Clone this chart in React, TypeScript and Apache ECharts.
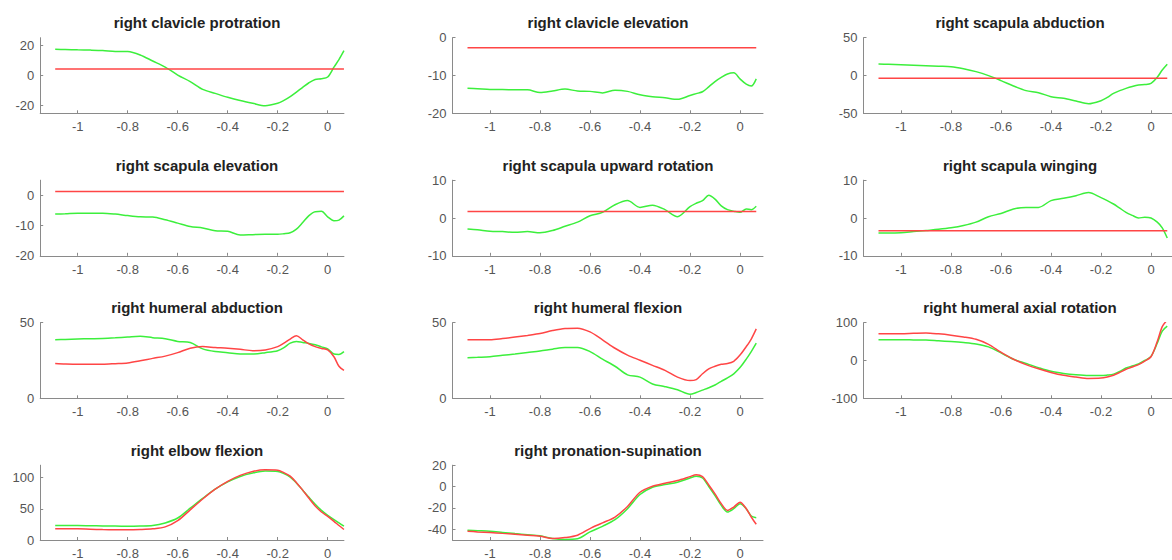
import React, { useEffect, useRef } from "react";
import * as echarts from "echarts";

// shared time samples (s)
const X = [-1.09, -1.05, -1.0, -0.95, -0.9, -0.85, -0.8, -0.75, -0.7, -0.65, -0.6, -0.55, -0.5, -0.45, -0.4, -0.35, -0.3, -0.25, -0.2, -0.175, -0.15, -0.125, -0.1, -0.075, -0.05, -0.025, 0, 0.025, 0.045, 0.065];
const X_ENDS = [-1.09, 0.065];
const X_TICKS = [-1, -0.8, -0.6, -0.4, -0.2, 0];

const TITLES = [
  "right clavicle protration",
  "right clavicle elevation",
  "right scapula abduction",
  "right scapula elevation",
  "right scapula upward rotation",
  "right scapula winging",
  "right humeral abduction",
  "right humeral flexion",
  "right humeral axial rotation",
  "right elbow flexion",
  "right pronation-supination",
];

const Y_MIN = [-25, -20, -50, -20, -10, -10, 0, 0, -100, 0, -50];
const Y_MAX = [25, 0, 50, 5, 10, 10, 50, 50, 100, 120, 20];
const Y_TICKS = [
  [-20, 0, 20],
  [-20, -10, 0],
  [-50, 0, 50],
  [-20, -10, 0],
  [-10, 0, 10],
  [-10, 0, 10],
  [0, 50],
  [0, 50],
  [-100, 0, 100],
  [0, 50, 100],
  [-40, -20, 0, 20],
];

// green curves
const clavProtGreen = [17.3, 17.2, 17.0, 16.8, 16.5, 15.9, 15.8, 13.6, 9.6, 5.6, 0.3, -4.0, -9.2, -11.8, -14.4, -16.6, -18.4, -20.0, -18.4, -16.5, -14.0, -11.0, -7.8, -4.8, -2.6, -2.2, -1.0, 5.5, 10.5, 16.4];
const clavElevGreen = [-13.4, -13.5, -13.7, -13.7, -13.8, -13.8, -14.5, -14.1, -13.6, -14.1, -14.2, -14.6, -13.9, -14.2, -15.1, -15.6, -15.9, -16.3, -15.3, -14.8, -14.3, -13.0, -11.6, -10.5, -9.6, -9.3, -10.9, -12.3, -12.8, -10.9];
const scapAbdGreen = [15.2, 14.8, 14.3, 13.7, 13.0, 12.3, 11.7, 9.0, 5.1, -0.2, -6.8, -13.9, -20.0, -22.7, -28.0, -30.2, -33.7, -37.3, -33.3, -29.0, -23.6, -20.0, -17.0, -14.5, -12.6, -12.0, -10.4, -2.4, 7.3, 15.0];
const scapElevGreen = [-6.2, -6.1, -5.9, -5.9, -5.9, -6.2, -6.7, -7.1, -7.2, -8.1, -9.2, -10.3, -10.8, -11.7, -11.9, -13.1, -13.0, -12.9, -12.9, -12.7, -12.4, -11.2, -9.0, -6.7, -5.4, -5.3, -7.1, -8.4, -8.2, -6.8];
const scapUpGreen = [-2.9, -3.1, -3.5, -3.6, -3.8, -3.6, -3.9, -3.3, -2.2, -1.1, 0.6, 1.5, 3.5, 4.6, 2.8, 3.4, 2.2, 0.35, 3.0, 3.9, 4.6, 6.0, 5.0, 3.2, 2.2, 1.8, 1.5, 2.4, 2.2, 3.1];
const scapWingGreen = [-4.0, -4.0, -3.9, -3.6, -3.3, -3.0, -2.6, -2.0, -1.1, 0.35, 1.2, 2.4, 2.8, 2.8, 4.6, 5.2, 5.9, 6.75, 5.4, 4.6, 3.7, 2.6, 1.5, 0.7, 0.0, 0.2, 0.0, -1.1, -2.6, -5.3];
const humAbdGreen = [38.7, 38.9, 39.2, 39.4, 39.6, 40.0, 40.5, 41.0, 40.1, 39.4, 37.6, 36.9, 32.7, 30.9, 30.2, 29.3, 29.3, 30.2, 31.5, 33.5, 36.5, 37.6, 36.9, 36.3, 35.4, 34.0, 32.7, 29.3, 29.0, 30.9];
const humFlexGreen = [26.8, 27.1, 27.5, 28.4, 29.3, 30.3, 31.3, 32.5, 33.6, 33.6, 30.9, 25.9, 21.2, 15.5, 14.0, 9.5, 7.7, 5.6, 2.7, 3.8, 5.4, 7.0, 8.8, 11.2, 13.5, 16.2, 20.3, 25.9, 30.9, 36.5];
const humAxGreen = [55, 55, 55, 54.5, 54, 52, 50, 47.4, 43.7, 36, 20, 3.3, -8, -19, -28.6, -34.3, -38, -40, -40, -38.5, -36, -29, -20, -14.5, -9, 0, 10.8, 45.5, 78, 91];
const elbowGreen = [23.2, 23.2, 23.2, 22.9, 22.6, 22.3, 22.1, 22.4, 23.2, 27.4, 35.3, 51, 66.8, 81.6, 93.2, 102, 107.4, 110.5, 110, 106.5, 101, 91.5, 80, 68.5, 57.4, 47.5, 39.5, 32.6, 27.4, 22.1];
const pronGreen = [-40.9, -41.3, -41.8, -42.9, -44, -45, -46.1, -48.6, -49.5, -48.9, -42.4, -37.2, -31, -20.7, -7.4, -0.6, 1.9, 4, 8, 9.6, 8, 0, -8.4, -17.6, -23.8, -20.7, -16.1, -20.7, -27.6, -29.1];

// red curves (constant ones give the value at the two ends)
const clavProtRed = [4.3, 4.3];
const clavElevRed = [-2.65, -2.65];
const scapAbdRed = [-3.7, -3.7];
const scapElevRed = [1.3, 1.3];
const scapUpRed = [1.75, 1.75];
const scapWingRed = [-3.4, -3.4];
const humAbdRed = [23.0, 22.7, 22.5, 22.5, 22.5, 22.9, 23.4, 24.8, 26.4, 27.9, 30.2, 33.1, 34.2, 33.6, 33.1, 32.4, 31.5, 32.0, 34.2, 36.5, 39.2, 41.4, 38.7, 36.0, 34.2, 33.0, 32.0, 27.5, 21.2, 18.5];
const humFlexRed = [38.7, 38.7, 38.7, 39.5, 40.5, 41.6, 42.8, 44.8, 46.2, 46.4, 43.9, 38.7, 33.1, 28.6, 25.2, 21.8, 18.5, 14.0, 11.7, 12.4, 16.2, 19.5, 21.2, 22.5, 23.0, 24.5, 28.6, 34.2, 39.2, 45.9];
const humAxRed = [71, 71, 71, 72, 72.8, 70.5, 67, 62.4, 56, 42.7, 22, 3.3, -10.8, -22, -31.5, -39, -43.7, -47.4, -46.5, -43.5, -39, -31.5, -23, -17, -10.8, -1.5, 9.9, 50, 89.7, 107];
const elbowRed = [17.9, 17.9, 17.9, 17.3, 16.8, 16.5, 16.3, 16.8, 17.9, 21, 31, 48.4, 65.8, 81.6, 94.2, 103.7, 110, 112.6, 112, 108, 102.6, 92, 80, 67, 54.7, 45, 37.9, 30, 23.2, 16.8];
const pronRed = [-41.8, -42.4, -43, -43.8, -44.6, -45.5, -46.4, -48.6, -47.7, -45.5, -39.3, -34, -28.5, -18.6, -5.3, 0.3, 3.1, 5.6, 9.3, 11.1, 9.3, 1.5, -6.8, -16, -22.3, -19.2, -14.6, -20.7, -28.5, -35.3];

const GREEN = [clavProtGreen, clavElevGreen, scapAbdGreen, scapElevGreen, scapUpGreen, scapWingGreen, humAbdGreen, humFlexGreen, humAxGreen, elbowGreen, pronGreen];
const RED = [clavProtRed, clavElevRed, scapAbdRed, scapElevRed, scapUpRed, scapWingRed, humAbdRed, humFlexRed, humAxRed, elbowRed, pronRed];

const FONT = "'Liberation Sans', Arial, Helvetica, sans-serif";
const GREEN_COLOR = "#3cef3c";
const RED_COLOR = "#ff4545";

function pairs(ys: number[]) {
  const xs = ys.length === 2 ? X_ENDS : X;
  return ys.map((y, i) => [xs[i], y]);
}

export default function App() {
  const ref = useRef<HTMLDivElement>(null);
  useEffect(() => {
    document.body.style.margin = "0";
    if (!ref.current) return;
    const chart = echarts.init(ref.current, null, { renderer: "svg" });

    const PX = 250;
    const XMIN = -1.15;
    const zeroX = [327.7, 740, 1151];
    const xMaxCol = [0.065, 0.092, 0.084];
    const titleCX = [197, 608, 1020];
    const top0 = 37.7;
    const rowStep = 142.5;
    const h = 75.6;

    const grids: any[] = [];
    const xAxes: any[] = [];
    const yAxes: any[] = [];
    const titles: any[] = [];
    const series: any[] = [];

    TITLES.forEach((t, i) => {
      const r = Math.floor(i / 3);
      const c = i % 3;
      const left = zeroX[c] + XMIN * PX;
      const width = (xMaxCol[c] - XMIN) * PX;
      const top = top0 + r * rowStep;
      grids.push({ left, top, width, height: h, containLabel: false });
      xAxes.push({
        type: "value",
        gridIndex: i,
        min: XMIN,
        max: xMaxCol[c],
        axisLine: { show: true, onZero: false, lineStyle: { color: "#8a8a8a", width: 1 } },
        axisTick: { show: true, inside: true, length: 3, customValues: X_TICKS, lineStyle: { color: "#8a8a8a" } },
        axisLabel: { show: true, customValues: X_TICKS, margin: 7, color: "#555", fontSize: 13, fontFamily: FONT, formatter: (v: number) => String(v) },
        splitLine: { show: false },
      });
      yAxes.push({
        type: "value",
        gridIndex: i,
        min: Y_MIN[i],
        max: Y_MAX[i],
        axisLine: { show: true, onZero: false, lineStyle: { color: "#8a8a8a", width: 1 } },
        axisTick: { show: true, inside: true, length: 3, customValues: Y_TICKS[i], lineStyle: { color: "#8a8a8a" } },
        axisLabel: { show: true, customValues: Y_TICKS[i], margin: 6, color: "#555", fontSize: 13, fontFamily: FONT },
        splitLine: { show: false },
      });
      titles.push({
        text: t,
        left: titleCX[c],
        top: top - 22.3,
        padding: 0,
        textAlign: "center",
        textStyle: { fontSize: 15, fontWeight: "bold", color: "#222", fontFamily: FONT },
      });
      series.push({
        type: "line",
        xAxisIndex: i,
        yAxisIndex: i,
        data: pairs(GREEN[i]),
        showSymbol: false,
        smooth: 0.3,
        lineStyle: { color: GREEN_COLOR, width: 1.5 },
        clip: true,
      });
      series.push({
        type: "line",
        xAxisIndex: i,
        yAxisIndex: i,
        data: pairs(RED[i]),
        showSymbol: false,
        smooth: 0.3,
        lineStyle: { color: RED_COLOR, width: 1.5 },
        clip: true,
      });
    });

    chart.setOption({
      animation: false,
      backgroundColor: "#ffffff",
      title: titles,
      grid: grids,
      xAxis: xAxes,
      yAxis: yAxes,
      series,
    });
    return () => chart.dispose();
  }, []);
  return <div ref={ref} style={{ width: 1172, height: 560 }} />;
}
